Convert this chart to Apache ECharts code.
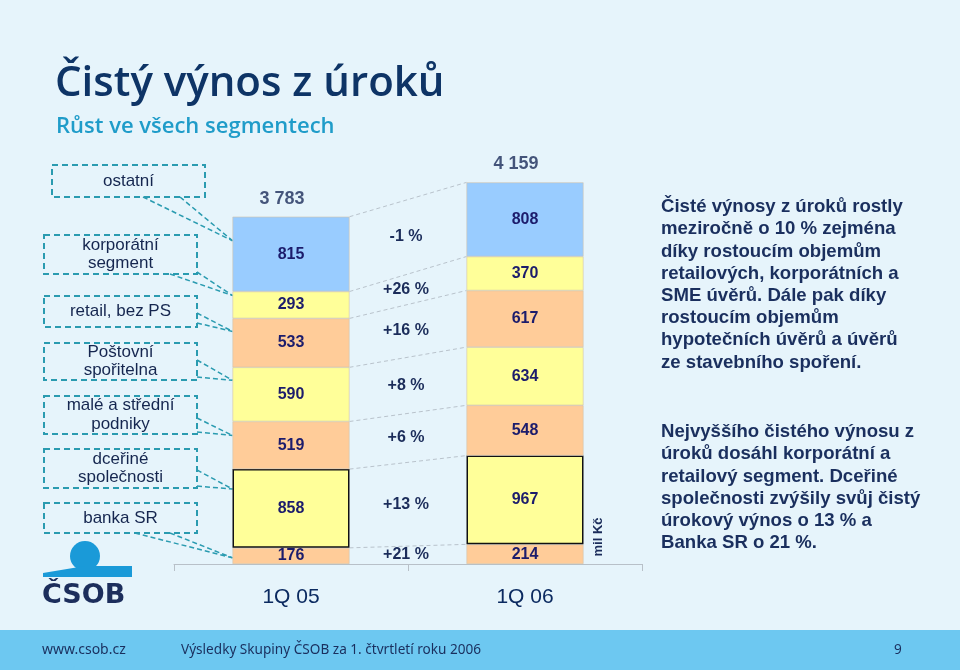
<!DOCTYPE html>
<html>
<head>
<meta charset="utf-8">
<script src="https://cdn.jsdelivr.net/npm/echarts@6/dist/echarts.min.js"></script>
<style>
html,body{margin:0;padding:0;background:#E6F4FB;}
#chart{width:960px;height:670px;}
</style>
</head>
<body>
<div id="chart"></div>
<script>
// ---- data ----
const categories = ['1Q 05', '1Q 06'];
const segments = ['banka SR', 'dceřiné společnosti', 'malé a střední podniky', 'Poštovní spořitelna', 'retail, bez PS', 'korporátní segment', 'ostatní'];
const values05 = [176, 858, 519, 590, 533, 293, 815];
const values06 = [214, 967, 548, 634, 617, 370, 808];
const totals = [3783, 4159];
const growth = ['+21 %', '+13 %', '+6 %', '+8 %', '+16 %', '+26 %', '-1 %'];
const unitLabel = 'mil Kč';

// ---- style / layout ----
const segColors = ['#FFCC99', '#FFFF99', '#FFCC99', '#FFFF99', '#FFCC99', '#FFFF99', '#99CCFF'];
const navy = '#1b2c5a';
const teal = '#2a9bb0';
// left label boxes (pixel layout), indexed by segment
const boxes = [
  {x: 44, y: 503, w: 153, h: 30, lines: ['banka SR'], from: [[135, 533], [170, 533]], off: 10},
  {x: 44, y: 449, w: 153, h: 39, lines: ['dceřiné', 'společnosti'], from: [[197, 470], [197, 486]], off: 20},
  {x: 44, y: 396, w: 153, h: 38, lines: ['malé a střední', 'podniky'], from: [[197, 418], [197, 432]], off: 14},
  {x: 44, y: 343, w: 153, h: 37, lines: ['Poštovní', 'spořitelna'], from: [[197, 360], [197, 377]], off: 13},
  {x: 44, y: 296, w: 153, h: 31, lines: ['retail, bez PS'], from: [[197, 313], [197, 323]], off: 13},
  {x: 44, y: 235, w: 153, h: 39, lines: ['korporátní', 'segment'], from: [[170, 274], [197, 272]], off: 4},
  {x: 52, y: 165, w: 153, h: 32, lines: ['ostatní'], from: [[143, 197], [180, 197]], off: 24}
];

function cum(arr, i) { let s = 0; for (let k = 0; k <= i; k++) s += arr[k]; return s; }
function fmt(v) { return String(v).replace(/\B(?=(\d{3})+(?!\d))/g, ' '); }

const chart = echarts.init(document.getElementById('chart'), null, {renderer: 'canvas'});

const barSeries = segments.map((name, i) => ({
  name: name,
  type: 'bar',
  stack: 'total',
  barWidth: '50%',
  data: [values05[i], values06[i]],
  z: 3,
  silent: true,
  itemStyle: {
    color: segColors[i],
    borderColor: i === 1 ? '#111' : '#d2c3ad',
    borderWidth: i === 1 ? 1.5 : 0.6
  },
  label: {
    show: true,
    position: 'inside',
    color: '#1c1c6c',
    fontFamily: 'Liberation Sans',
    fontWeight: 'bold',
    fontSize: 16
  }
}));

// connecting dashed lines + growth labels between the bars
const connector = {
  type: 'custom',
  silent: true,
  z: 2,
  data: segments.map((s, i) => [0, i]),
  renderItem: function (params, api) {
    const i = api.value(1);
    const band = api.size([1, 0])[0];
    const half = band * 0.25;
    const top05 = api.coord([0, cum(values05, i)]);
    const top06 = api.coord([1, cum(values06, i)]);
    const bot05 = api.coord([0, i > 0 ? cum(values05, i - 1) : 0]);
    const bot06 = api.coord([1, i > 0 ? cum(values06, i - 1) : 0]);
    const x1 = top05[0] + half, x2 = top06[0] - half;
    const yl = (top05[1] + top06[1] + bot05[1] + bot06[1]) / 4;
    return {
      type: 'group',
      children: [
        {type: 'line', shape: {x1: x1, y1: top05[1], x2: x2, y2: top06[1]},
          style: {stroke: '#b9c3cc', lineWidth: 1, lineDash: [4, 3]}},
        {type: 'text', style: {text: growth[i], x: (x1 + x2) / 2 - 2, y: yl, align: 'center', verticalAlign: 'middle',
          font: 'bold 16px "Liberation Sans"', fill: navy}}
      ]
    };
  }
};

// leader lines from the left label boxes to the 1Q 05 bar
const leaders = {
  type: 'custom',
  silent: true,
  z: 1,
  data: segments.map((s, i) => [0, i]),
  renderItem: function (params, api) {
    const i = api.value(1);
    const band = api.size([1, 0])[0];
    const half = band * 0.25;
    const top = api.coord([0, cum(values05, i)]);
    const tx = top[0] - half, ty = top[1] + boxes[i].off;
    return {
      type: 'group',
      children: boxes[i].from.map(p => ({
        type: 'line', shape: {x1: p[0], y1: p[1], x2: tx, y2: ty},
        style: {stroke: teal, lineWidth: 1.5, lineDash: [5, 3]}
      }))
    };
  }
};

const totalSeries = {
  type: 'scatter',
  silent: true,
  symbolSize: 0,
  data: totals.map((t, k) => [k, t]),
  label: {
    show: true,
    position: 'top',
    distance: 9,
    offset: [-9, 0],
    formatter: p => fmt(p.value[1]),
    color: navy,
    fontFamily: 'Liberation Sans',
    fontWeight: 'bold',
    fontSize: 18
  }
};

const graphics = [
  // footer band
  {type: 'rect', left: 0, top: 630, shape: {width: 960, height: 40}, style: {fill: '#6DC8F1'}, z: 0},
  {type: 'text', left: 42, top: 643, style: {text: 'www.csob.cz', font: '14px "Noto Sans"', fill: '#1a2f5e'}},
  {type: 'text', left: 181, top: 643, style: {text: 'Výsledky Skupiny ČSOB za 1. čtvrtletí roku 2006', font: '13.6px "Noto Sans"', fill: '#1a2f5e'}},
  {type: 'text', left: 894, top: 643, style: {text: '9', font: '13.6px "Noto Sans"', fill: '#1a2f5e'}},
  // right paragraph
  {type: 'text', left: 661, top: 196, style: {
    text: 'Čisté výnosy z úroků rostly\nmeziročně o 10 % zejména\ndíky rostoucím objemům\nretailových, korporátních a\nSME úvěrů. Dále pak díky\nrostoucím objemům\nhypotečních úvěrů a úvěrů\nze stavebního spoření.',
    font: 'bold 18.6px "Liberation Sans"', lineHeight: 22.2, fill: '#1a2f5e'}},
  {type: 'text', left: 661, top: 421, style: {
    text: 'Nejvyššího čistého výnosu z\núroků dosáhl korporátní a\nretailový segment. Dceřiné\nspolečnosti zvýšily svůj čistý\núrokový výnos o 13 % a\nBanka SR o 21 %.',
    font: 'bold 18.6px "Liberation Sans"', lineHeight: 22.2, fill: '#1a2f5e'}},
  // unit label
  {type: 'text', x: 598, y: 537, rotation: Math.PI / 2, style: {text: unitLabel, font: 'bold 13px "Liberation Sans"', fill: navy, align: 'center', verticalAlign: 'middle'}},
  // logo
  {type: 'circle', shape: {cx: 85, cy: 556, r: 15}, style: {fill: '#1a9ad8'}},
  {type: 'polygon', shape: {points: [[43, 573], [85, 566], [132, 566], [132, 577], [43, 577]]}, style: {fill: '#1a9ad8'}},
  {type: 'text', left: 42, top: 582, style: {text: 'ČSOB', font: 'bold 27px "DejaVu Sans"', fill: '#1c2e5c'}}
];

// label boxes
boxes.forEach(b => {
  graphics.push({type: 'rect', shape: {x: b.x, y: b.y, width: b.w, height: b.h},
    style: {fill: 'none', stroke: teal, lineWidth: 2, lineDash: [6, 4]}});
  graphics.push({type: 'text', x: b.x + b.w / 2, y: b.y + b.h / 2,
    style: {text: b.lines.join('\n'), font: '17px "Liberation Sans"', lineHeight: 18.5, fill: '#15264f', align: 'center', verticalAlign: 'middle'}});
});

chart.setOption({
  backgroundColor: '#E6F4FB',
  animation: false,
  title: [
    {text: 'Čistý výnos z úroků', left: 50, top: 58,
      textStyle: {fontFamily: 'Open Sans', fontWeight: 600, fontSize: 42, color: '#0e3466'}},
    {text: 'Růst ve všech segmentech', left: 51, top: 111,
      textStyle: {fontFamily: 'Open Sans', fontWeight: 600, fontSize: 22, color: '#1f9cc9'}}
  ],
  grid: {left: 174, right: 318, top: 151, bottom: 106},
  xAxis: {
    type: 'category',
    data: categories,
    axisLine: {lineStyle: {color: '#b8c0c8', width: 1}},
    axisTick: {show: true, length: 7, lineStyle: {color: '#b8c0c8'}},
    axisLabel: {margin: 23, fontFamily: 'Liberation Sans', fontSize: 21, color: '#0b2a60'}
  },
  yAxis: {type: 'value', min: 0, max: 4500, show: false, splitLine: {show: false}},
  series: [leaders, connector].concat(barSeries).concat([totalSeries]),
  graphic: graphics
});
</script>
</body>
</html>
